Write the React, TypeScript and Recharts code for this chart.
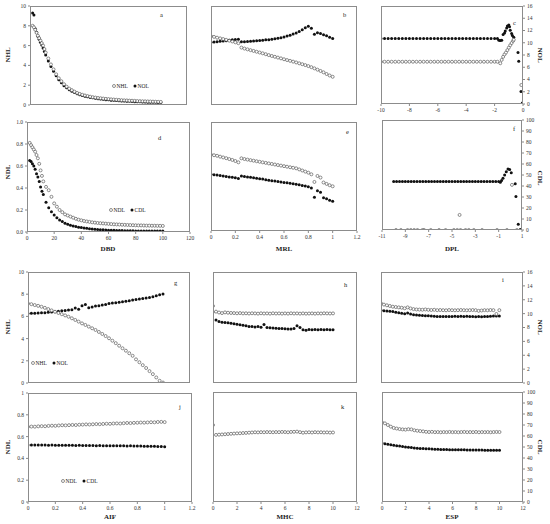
import React from 'react';
import { ScatterChart, Scatter, XAxis, YAxis } from 'recharts';

// ---- data ----
const DBD = [2, 3, 4, 5, 6, 7, 8, 9, 10, 11, 12, 14, 16, 18, 20, 22, 24, 26, 28, 30, 32, 34, 36, 38, 40, 42, 44, 46, 48, 50, 52, 54, 56, 58, 60, 62, 64, 66, 68, 70, 72, 74, 76, 78, 80, 82, 84, 86, 88, 90, 92, 94, 96, 98, 100];
const NHL_DBD = [8.0, 7.85, 7.6, 7.3, 7.0, 6.75, 6.5, 6.25, 6.0, 5.65, 5.3, 4.7, 4.1, 3.6, 3.1, 2.7, 2.4, 2.1, 1.85, 1.65, 1.5, 1.35, 1.22, 1.12, 1.03, 0.96, 0.9, 0.84, 0.79, 0.75, 0.71, 0.68, 0.65, 0.62, 0.6, 0.57, 0.55, 0.53, 0.51, 0.49, 0.47, 0.46, 0.44, 0.43, 0.42, 0.4, 0.39, 0.38, 0.37, 0.36, 0.35, 0.34, 0.33, 0.32, 0.31];
const NOL_DBD = [9.3, 9.1, 7.7, 7.35, 6.95, 6.65, 6.35, 6.05, 5.75, 5.4, 5.05, 4.45, 3.9, 3.4, 2.95, 2.55, 2.25, 1.95, 1.75, 1.55, 1.4, 1.26, 1.14, 1.04, 0.96, 0.89, 0.83, 0.77, 0.72, 0.68, 0.64, 0.6, 0.57, 0.54, 0.52, 0.49, 0.47, 0.45, 0.43, 0.41, 0.4, 0.38, 0.37, 0.36, 0.34, 0.33, 0.32, 0.31, 0.3, 0.29, 0.28, 0.27, 0.27, 0.26, 0.25];
const NDL_DBD = [0.81, 0.79, 0.77, 0.75, 0.73, 0.7, 0.67, 0.62, 0.56, 0.51, 0.46, 0.41, 0.38, 0.32, 0.26, 0.23, 0.2, 0.18, 0.16, 0.15, 0.14, 0.13, 0.12, 0.112, 0.106, 0.1, 0.096, 0.092, 0.088, 0.085, 0.082, 0.08, 0.078, 0.076, 0.074, 0.072, 0.07, 0.069, 0.068, 0.066, 0.065, 0.064, 0.063, 0.062, 0.061, 0.06, 0.06, 0.059, 0.058, 0.058, 0.057, 0.057, 0.056, 0.056, 0.055];
const CDL_DBD = [0.65, 0.64, 0.62, 0.6, 0.57, 0.53, 0.5, 0.46, 0.41, 0.37, 0.34, 0.27, 0.22, 0.185, 0.155, 0.13, 0.11, 0.095, 0.08, 0.07, 0.062, 0.055, 0.049, 0.044, 0.04, 0.036, 0.033, 0.03, 0.027, 0.025, 0.023, 0.021, 0.02, 0.018, 0.017, 0.016, 0.015, 0.014, 0.013, 0.013, 0.012, 0.012, 0.011, 0.011, 0.01, 0.01, 0.01, 0.009, 0.009, 0.009, 0.008, 0.008, 0.008, 0.008, 0.008];

const MRL = [0, 0.025, 0.05, 0.075, 0.1, 0.125, 0.15, 0.175, 0.2, 0.225, 0.25, 0.275, 0.3, 0.325, 0.35, 0.375, 0.4, 0.425, 0.45, 0.475, 0.5, 0.525, 0.55, 0.575, 0.6, 0.625, 0.65, 0.675, 0.7, 0.725, 0.75, 0.775, 0.8, 0.825, 0.85, 0.875, 0.9, 0.925, 0.95, 0.975, 1];
const NHL_MRL = [6.95, 6.88, 6.8, 6.73, 6.66, 6.58, 6.5, 6.42, 6.33, 6.24, 5.8, 5.7, 5.62, 5.54, 5.46, 5.38, 5.3, 5.22, 5.13, 5.04, 4.95, 4.87, 4.79, 4.71, 4.62, 4.54, 4.46, 4.38, 4.3, 4.21, 4.12, 4.03, 3.93, 3.82, 3.7, 3.57, 3.44, 3.3, 3.13, 2.98, 2.85];
const NOL_MRL = [6.33, 6.36, 6.4, 6.43, 6.47, 6.5, 6.55, 6.58, 6.62, 6.65, 6.38, 6.4, 6.42, 6.45, 6.47, 6.5, 6.52, 6.55, 6.58, 6.6, 6.64, 6.68, 6.73, 6.8, 6.88, 6.96, 7.05, 7.16, 7.28, 7.42, 7.6, 7.8, 7.95, 7.75, 7.15, 7.3, 7.22, 7.1, 7.0, 6.85, 6.72];
const NDL_MRL = [0.7, 0.695, 0.69, 0.682, 0.675, 0.668, 0.66, 0.652, 0.642, 0.63, 0.667, 0.66, 0.655, 0.65, 0.645, 0.64, 0.635, 0.63, 0.625, 0.62, 0.615, 0.61, 0.605, 0.6, 0.595, 0.59, 0.585, 0.58, 0.575, 0.565, 0.555, 0.545, 0.535, 0.52, 0.45, 0.505, 0.49, 0.445, 0.432, 0.42, 0.41];
const CDL_MRL = [0.52, 0.517, 0.513, 0.51, 0.505, 0.5, 0.496, 0.492, 0.488, 0.482, 0.505, 0.5, 0.496, 0.492, 0.488, 0.484, 0.48, 0.476, 0.471, 0.466, 0.462, 0.458, 0.454, 0.45, 0.446, 0.442, 0.438, 0.434, 0.43, 0.424, 0.418, 0.412, 0.406, 0.395, 0.31, 0.37, 0.355, 0.305, 0.295, 0.283, 0.272];

const DPL_NOL = [-10, -9.75, -9.5, -9.25, -9, -8.75, -8.5, -8.25, -8, -7.75, -7.5, -7.25, -7, -6.75, -6.5, -6.25, -6, -5.75, -5.5, -5.25, -5, -4.75, -4.5, -4.25, -4, -3.75, -3.5, -3.25, -3, -2.75, -2.5, -2.25, -2, -1.8, -1.7, -1.6, -1.5, -1.4, -1.3, -1.25, -1.15, -1.1, -1.0, -0.95, -0.9, -0.8, -0.75, -0.65, -0.35, -0.3, -0.14, -0.05];
const NOL_DPL = [10.7, 10.7, 10.7, 10.7, 10.7, 10.7, 10.7, 10.7, 10.7, 10.7, 10.7, 10.7, 10.7, 10.7, 10.7, 10.7, 10.7, 10.7, 10.7, 10.7, 10.7, 10.7, 10.7, 10.7, 10.7, 10.7, 10.7, 10.7, 10.7, 10.7, 10.7, 10.7, 10.7, 10.7, 10.4, 10.35, 10.4, 11.35, 11.6, 11.9, 12.4, 12.75, 12.9, 12.6, 12.05, 11.5, 11.2, 10.9, 8.4, 7.0, 2.05, 0.15];
const DPL_NHL = [-10, -9.75, -9.5, -9.25, -9, -8.75, -8.5, -8.25, -8, -7.75, -7.5, -7.25, -7, -6.75, -6.5, -6.25, -6, -5.75, -5.5, -5.25, -5, -4.75, -4.5, -4.25, -4, -3.75, -3.5, -3.25, -3, -2.75, -2.5, -2.25, -2, -1.8, -1.6, -1.5, -1.4, -1.3, -1.2, -1.1, -1.0, -0.9, -0.8, -0.7, -0.65, -0.12];
const NHL_DPL = [6.9, 6.9, 6.9, 6.9, 6.9, 6.9, 6.9, 6.9, 6.9, 6.9, 6.9, 6.9, 6.9, 6.9, 6.9, 6.9, 6.9, 6.9, 6.9, 6.9, 6.9, 6.9, 6.9, 6.9, 6.9, 6.9, 6.9, 6.9, 6.9, 6.9, 6.9, 6.9, 6.9, 6.9, 6.65, 7.2, 7.7, 8.1, 8.4, 8.8, 9.2, 9.6, 9.95, 10.3, 10.5, 3.1];
const DPL_CDL = [-10, -9.75, -9.5, -9.25, -9, -8.75, -8.5, -8.25, -8, -7.75, -7.5, -7.25, -7, -6.75, -6.5, -6.25, -6, -5.75, -5.5, -5.25, -5, -4.75, -4.5, -4.25, -4, -3.75, -3.5, -3.25, -3, -2.75, -2.5, -2.25, -2, -1.75, -1.5, -1.25, -1, -0.86, -0.75, -0.63, -0.49, -0.35, -0.2, -0.06, 0.08, 0.42, 0.48, 0.68, 0.85];
const CDL_DPL = [44.2, 44.2, 44.2, 44.2, 44.2, 44.2, 44.2, 44.2, 44.2, 44.2, 44.2, 44.2, 44.2, 44.2, 44.2, 44.2, 44.2, 44.2, 44.2, 44.2, 44.2, 44.2, 44.2, 44.2, 44.2, 44.2, 44.2, 44.2, 44.2, 44.2, 44.2, 44.2, 44.2, 44.2, 44.2, 44.2, 44.2, 43.3, 45, 47, 50, 53, 55.5, 55, 52, 42, 30.5, 5.2, 0.5];
const DPL_NDL = [-9.8, -9.38, -8.81, -8.53, -8.24, -7.96, -7.53, -7.39, -6.82, -6.11, -5.55, -4.84, -4.55, -4.35, -4.27, -3.84, -3.56, -3.13, -2.42, -1.14, -0.29, 0.14, 0.56];
const NDL_DPL = [0, 0, 0, 0, 0, 0, 0, 0, 0, 0, 0, 0, 0, 13.7, 0, 0, 0, 0, 0, 0, 0, 41, 0];

const AIF = [0, 0.025, 0.05, 0.075, 0.1, 0.125, 0.15, 0.175, 0.2, 0.225, 0.25, 0.275, 0.3, 0.325, 0.35, 0.375, 0.4, 0.425, 0.45, 0.475, 0.5, 0.525, 0.55, 0.575, 0.6, 0.625, 0.65, 0.675, 0.7, 0.725, 0.75, 0.775, 0.8, 0.825, 0.85, 0.875, 0.9, 0.925, 0.95, 0.975, 1];
const NHL_AIF = [7.16, 7.1, 7.02, 6.95, 6.87, 6.77, 6.66, 6.54, 6.42, 6.31, 6.2, 6.09, 5.97, 5.83, 5.68, 5.53, 5.37, 5.23, 5.08, 4.93, 4.78, 4.6, 4.42, 4.23, 4.03, 3.81, 3.59, 3.36, 3.13, 2.91, 2.68, 2.45, 2.13, 1.87, 1.61, 1.35, 1.07, 0.8, 0.5, 0.2, 0.04];
const NOL_AIF = [6.27, 6.28, 6.29, 6.3, 6.32, 6.34, 6.37, 6.4, 6.42, 6.46, 6.5, 6.53, 6.57, 6.6, 6.75, 6.65, 6.95, 7.07, 6.78, 6.85, 6.93, 6.97, 7.02, 7.08, 7.16, 7.2, 7.24, 7.27, 7.31, 7.36, 7.42, 7.47, 7.53, 7.57, 7.62, 7.66, 7.71, 7.78, 7.85, 7.95, 8.02];
const NDL_AIF = [0.69, 0.692, 0.691, 0.694, 0.696, 0.695, 0.698, 0.7, 0.699, 0.702, 0.704, 0.703, 0.705, 0.707, 0.706, 0.709, 0.71, 0.712, 0.711, 0.713, 0.715, 0.714, 0.716, 0.718, 0.717, 0.72, 0.721, 0.72, 0.723, 0.725, 0.724, 0.726, 0.727, 0.729, 0.728, 0.73, 0.732, 0.731, 0.734, 0.735, 0.733];
const CDL_AIF = [0.523, 0.523, 0.522, 0.523, 0.522, 0.522, 0.521, 0.522, 0.521, 0.521, 0.52, 0.521, 0.52, 0.52, 0.519, 0.52, 0.519, 0.518, 0.519, 0.518, 0.517, 0.518, 0.517, 0.516, 0.517, 0.516, 0.515, 0.516, 0.515, 0.514, 0.515, 0.514, 0.513, 0.513, 0.512, 0.512, 0.511, 0.511, 0.51, 0.509, 0.508];

const MHC = [0, 0.25, 0.5, 0.75, 1, 1.25, 1.5, 1.75, 2, 2.25, 2.5, 2.75, 3, 3.25, 3.5, 3.75, 4, 4.25, 4.5, 4.75, 5, 5.25, 5.5, 5.75, 6, 6.25, 6.5, 6.75, 7, 7.25, 7.5, 7.75, 8, 8.25, 8.5, 8.75, 9, 9.25, 9.5, 9.75, 10];
const NHL_MHC = [6.94, 6.43, 6.35, 6.3, 6.36, 6.33, 6.31, 6.3, 6.28, 6.3, 6.27, 6.28, 6.26, 6.28, 6.27, 6.25, 6.28, 6.26, 6.27, 6.25, 6.28, 6.26, 6.27, 6.25, 6.27, 6.25, 6.28, 6.26, 6.27, 6.25, 6.27, 6.25, 6.26, 6.27, 6.25, 6.27, 6.26, 6.28, 6.27, 6.26, 6.27];
const NOL_MHC = [6.4, 5.68, 5.55, 5.48, 5.44, 5.42, 5.38, 5.34, 5.29, 5.25, 5.2, 5.15, 5.1, 5.08, 5.05, 5.1, 5.02, 5.28, 5.0, 4.98, 4.95, 4.94, 4.92, 4.9, 4.88, 4.87, 4.86, 4.9, 5.15, 5.0, 4.8, 4.75, 4.82, 4.8, 4.83, 4.8, 4.82, 4.79, 4.81, 4.8, 4.8];
const NDL_MHC = [0.7, 0.61, 0.612, 0.614, 0.616, 0.618, 0.62, 0.622, 0.624, 0.625, 0.627, 0.628, 0.63, 0.632, 0.634, 0.633, 0.635, 0.634, 0.636, 0.635, 0.634, 0.636, 0.635, 0.637, 0.636, 0.634, 0.637, 0.638, 0.64, 0.635, 0.63, 0.633, 0.634, 0.632, 0.635, 0.633, 0.634, 0.632, 0.633, 0.631, 0.632];

const ESP = [0, 0.25, 0.5, 0.75, 1, 1.25, 1.5, 1.75, 2, 2.25, 2.5, 2.75, 3, 3.25, 3.5, 3.75, 4, 4.25, 4.5, 4.75, 5, 5.25, 5.5, 5.75, 6, 6.25, 6.5, 6.75, 7, 7.25, 7.5, 7.75, 8, 8.25, 8.5, 8.75, 9, 9.25, 9.5, 9.75, 10];
const NHL_ESP = [11.48, 11.3, 11.2, 11.1, 11.0, 10.95, 10.9, 10.85, 10.77, 10.9, 10.75, 10.65, 10.6, 10.58, 10.56, 10.6, 10.55, 10.52, 10.55, 10.5, 10.52, 10.5, 10.48, 10.52, 10.5, 10.48, 10.5, 10.52, 10.5, 10.48, 10.5, 10.52, 10.5, 10.4, 10.45, 10.5, 10.48, 10.52, 10.5, 9.95, 10.5];
const NOL_ESP = [10.5, 10.42, 10.38, 10.33, 10.3, 10.2, 10.12, 10.05, 9.98, 10.1, 9.95, 9.85, 9.8, 9.78, 9.74, 9.7, 9.68, 9.65, 9.62, 9.6, 9.58, 9.57, 9.6, 9.58, 9.6, 9.62, 9.6, 9.62, 9.6, 9.62, 9.6, 9.58, 9.56, 9.6, 9.55, 9.58, 9.6, 9.62, 9.65, 9.64, 9.66];
const NDL_ESP = [72.4, 71.5, 70, 68.5, 67.3, 66.8, 66.3, 66, 65.8, 66.2, 66, 65.2, 64.8, 64.5, 64.2, 63.8, 63.6, 63.8, 63.5, 63.6, 63.4, 63.6, 63.5, 63.7, 63.5, 63.6, 63.4, 63.6, 63.7, 63.5, 63.6, 63.5, 63.7, 63.4, 63.6, 63.5, 63.6, 63.4, 63.6, 63.7, 63.6];
const CDL_ESP = [53.6, 53, 52.4, 52, 51.5, 51.2, 50.8, 50.4, 50, 49.8, 49.6, 49.2, 48.8, 48.7, 48.6, 48.4, 48.3, 48.1, 48, 47.9, 47.8, 47.7, 47.7, 47.6, 47.6, 47.5, 47.5, 47.4, 47.4, 47.3, 47.3, 47.3, 47.2, 47.2, 47.2, 47.1, 47.1, 47.1, 47.0, 47.0, 47.0];

// ---- ticks ----
const TICKS_0_10 = [0, 2, 4, 6, 8, 10];
const TICKS_0_16 = [0, 2, 4, 6, 8, 10, 12, 14, 16];
const TICKS_0_1 = [0, 0.2, 0.4, 0.6, 0.8, 1];
const TICKS_0_100 = [0, 10, 20, 30, 40, 50, 60, 70, 80, 90, 100];
const TICKS_DBD = [0, 20, 40, 60, 80, 100, 120];
const TICKS_FRAC = [0, 0.2, 0.4, 0.6, 0.8, 1, 1.2];
const TICKS_DPL_C = [-10, -8, -6, -4, -2, 0];
const TICKS_DPL_F = [-11, -9, -7, -5, -3, -1, 1];
const TICKS_0_12 = [0, 2, 4, 6, 8, 10, 12];

const zip = (xs: number[], ys: number[]) => xs.map((x, i) => ({ x, y: ys[i] }));

const FONT = 'Liberation Serif, Times New Roman, serif';
const tickStyle = { fontSize: 5.5, fill: '#333', fontFamily: FONT };

const OpenDot = (p: any) => (
  <circle cx={p.cx} cy={p.cy} r={1.5} fill="#fff" stroke="#444" strokeWidth={0.6} />
);
const FilledDot = (p: any) => <circle cx={p.cx} cy={p.cy} r={1.5} fill="#111" />;

type PanelProps = {
  box: [number, number, number, number];
  xDomain: [number, number];
  xTicks: number[];
  showX?: boolean;
  yDomain: [number, number];
  yTicks: number[];
  yAxis: 'left' | 'right' | 'none';
  yFmt?: (v: number) => string;
  open?: { x: number; y: number }[];
  filled?: { x: number; y: number }[];
};

const PAD = 30;
const AXW = 26;
const AXH = 14;

function Panel({ box, xDomain, xTicks, showX, yDomain, yTicks, yAxis, yFmt, open, filled }: PanelProps) {
  const [x0, y0, x1, y1] = box;
  const w = x1 - x0;
  const h = y1 - y0;
  const margin = {
    top: 6,
    bottom: showX ? 22 - AXH : 22,
    left: yAxis === 'left' ? PAD - AXW : PAD,
    right: yAxis === 'right' ? PAD - AXW : PAD,
  };
  return (
    <>
      <div style={{ position: 'absolute', left: x0 - PAD, top: y0 - 6 }}>
        <ScatterChart width={w + 2 * PAD} height={h + 28} margin={margin}>
          <XAxis
            type="number"
            dataKey="x"
            domain={xDomain}
            ticks={xTicks}
            interval={0}
            hide={!showX}
            height={AXH}
            tick={tickStyle}
            tickSize={2}
            tickLine={{ stroke: '#888' }}
            axisLine={false}
            allowDataOverflow
          />
          <YAxis
            type="number"
            dataKey="y"
            domain={yDomain}
            ticks={yTicks}
            interval={0}
            hide={yAxis === 'none'}
            orientation={yAxis === 'right' ? 'right' : 'left'}
            width={AXW}
            tick={tickStyle}
            tickSize={2}
            tickLine={{ stroke: '#888' }}
            axisLine={false}
            tickFormatter={yFmt}
            allowDataOverflow
          />
          {filled && <Scatter data={filled} shape={FilledDot} isAnimationActive={false} />}
          {open && <Scatter data={open} shape={OpenDot} isAnimationActive={false} />}
        </ScatterChart>
      </div>
      <div
        style={{
          position: 'absolute',
          left: x0,
          top: y0,
          width: w,
          height: h,
          border: '1px solid #8c8c8c',
          boxSizing: 'border-box',
          pointerEvents: 'none',
        }}
      />
    </>
  );
}

const fix1 = (v: number) => v.toFixed(1);

function Legend({ x, y, a, b }: { x: number; y: number; a: string; b: string }) {
  return (
    <g fontSize={5.5} fontFamily={FONT} fill="#222">
      <circle cx={x} cy={y} r={1.5} fill="#fff" stroke="#444" strokeWidth={0.6} />
      <text x={x + 2.5} y={y + 2}>{a}</text>
      <circle cx={x + 21} cy={y} r={1.5} fill="#111" />
      <text x={x + 23.5} y={y + 2}>{b}</text>
    </g>
  );
}

const title = { fontSize: 7, fontWeight: 700, fontFamily: FONT, fill: '#222' } as const;
const letter = { fontSize: 6.5, fontFamily: FONT, fill: '#222' } as const;

export default function App() {
  return (
    <div style={{ position: 'absolute', left: 0, top: 0, width: 550, height: 524, background: '#fff', overflow: 'hidden' }}>
      {/* top block */}
      <Panel box={[30, 6, 187, 105]} xDomain={[0, 120]} xTicks={TICKS_DBD} yDomain={[0, 10]} yTicks={TICKS_0_10} yAxis="left"
        open={zip(DBD, NHL_DBD)} filled={zip(DBD, NOL_DBD)} />
      <Panel box={[211, 6, 357, 105]} xDomain={[0, 1.2]} xTicks={TICKS_FRAC} yDomain={[0, 10]} yTicks={TICKS_0_10} yAxis="none"
        open={zip(MRL, NHL_MRL)} filled={zip(MRL, NOL_MRL)} />
      <Panel box={[381, 6, 523, 104]} xDomain={[-10, 0]} xTicks={TICKS_DPL_C} showX yDomain={[0, 16]} yTicks={TICKS_0_16} yAxis="right"
        open={zip(DPL_NHL, NHL_DPL)} filled={zip(DPL_NOL, NOL_DPL)} />
      <Panel box={[27, 122, 190, 232]} xDomain={[0, 120]} xTicks={TICKS_DBD} showX yDomain={[0, 1]} yTicks={TICKS_0_1} yAxis="left" yFmt={fix1}
        open={zip(DBD, NDL_DBD)} filled={zip(DBD, CDL_DBD)} />
      <Panel box={[211, 122, 357, 231]} xDomain={[0, 1.2]} xTicks={TICKS_FRAC} showX yDomain={[0, 1]} yTicks={TICKS_0_1} yAxis="none"
        open={zip(MRL, NDL_MRL)} filled={zip(MRL, CDL_MRL)} />
      <Panel box={[382, 120, 522, 230]} xDomain={[-11, 1]} xTicks={TICKS_DPL_F} showX yDomain={[0, 100]} yTicks={TICKS_0_100} yAxis="right"
        open={zip(DPL_NDL, NDL_DPL)} filled={zip(DPL_CDL, CDL_DPL)} />

      {/* bottom block */}
      <Panel box={[28, 272, 190, 383]} xDomain={[0, 1.2]} xTicks={TICKS_FRAC} yDomain={[0, 10]} yTicks={TICKS_0_10} yAxis="left"
        open={zip(AIF, NHL_AIF)} filled={zip(AIF, NOL_AIF)} />
      <Panel box={[213, 272, 357, 383]} xDomain={[0, 12]} xTicks={TICKS_0_12} yDomain={[0, 10]} yTicks={TICKS_0_10} yAxis="none"
        open={zip(MHC, NHL_MHC)} filled={zip(MHC, NOL_MHC)} />
      <Panel box={[381, 272, 523, 383]} xDomain={[0, 12]} xTicks={TICKS_0_12} yDomain={[0, 16]} yTicks={TICKS_0_16} yAxis="right"
        open={zip(ESP, NHL_ESP)} filled={zip(ESP, NOL_ESP)} />
      <Panel box={[28, 393, 192, 502]} xDomain={[0, 1.2]} xTicks={TICKS_FRAC} showX yDomain={[0, 1]} yTicks={TICKS_0_1} yAxis="left"
        open={zip(AIF, NDL_AIF)} filled={zip(AIF, CDL_AIF)} />
      <Panel box={[213, 392, 357, 502]} xDomain={[0, 12]} xTicks={TICKS_0_12} showX yDomain={[0, 1]} yTicks={TICKS_0_1} yAxis="none"
        open={zip(MHC, NDL_MHC)} />
      <Panel box={[382, 392, 523, 502]} xDomain={[0, 12]} xTicks={TICKS_0_12} showX yDomain={[0, 100]} yTicks={TICKS_0_100} yAxis="right"
        open={zip(ESP, NDL_ESP)} filled={zip(ESP, CDL_ESP)} />

      <svg width={550} height={524} style={{ position: 'absolute', left: 0, top: 0, pointerEvents: 'none' }}>
        {/* axis titles */}
        <text {...title} textAnchor="middle" transform="translate(10,55) rotate(-90)">NHL</text>
        <text {...title} textAnchor="middle" transform="translate(10,172) rotate(-90)">NDL</text>
        <text {...title} textAnchor="middle" transform="translate(10,327) rotate(-90)">NHL</text>
        <text {...title} textAnchor="middle" transform="translate(10,447) rotate(-90)">NDL</text>
        <text {...title} textAnchor="middle" transform="translate(538,55) rotate(90)">NOL</text>
        <text {...title} textAnchor="middle" transform="translate(538,178) rotate(90)">CDL</text>
        <text {...title} textAnchor="middle" transform="translate(538,327) rotate(90)">NOL</text>
        <text {...title} textAnchor="middle" transform="translate(538,447) rotate(90)">CDL</text>
        <text {...title} textAnchor="middle" x={108} y={251}>DBD</text>
        <text {...title} textAnchor="middle" x={284} y={251}>MRL</text>
        <text {...title} textAnchor="middle" x={452} y={251}>DPL</text>
        <text {...title} textAnchor="middle" x={110} y={519}>AIF</text>
        <text {...title} textAnchor="middle" x={285} y={519}>MHC</text>
        <text {...title} textAnchor="middle" x={452} y={519}>ESP</text>

        {/* panel letters */}
        <text {...letter} x={160} y={17}>a</text>
        <text {...letter} x={343} y={17}>b</text>
        <text {...letter} x={513} y={25}>c</text>
        <text {...letter} x={158} y={140}>d</text>
        <text {...letter} x={346} y={134}>e</text>
        <text {...letter} x={513} y={131}>f</text>
        <text {...letter} x={174} y={285}>g</text>
        <text {...letter} x={344} y={287}>h</text>
        <text {...letter} x={502} y={282}>i</text>
        <text {...letter} x={179} y={409}>j</text>
        <text {...letter} x={341} y={409}>k</text>

        {/* legends */}
        <Legend x={114} y={86} a="NHL" b="NOL" />
        <Legend x={111} y={210} a="NDL" b="CDL" />
        <Legend x={33} y={363} a="NHL" b="NOL" />
        <Legend x={63} y={481} a="NDL" b="CDL" />
      </svg>
    </div>
  );
}
